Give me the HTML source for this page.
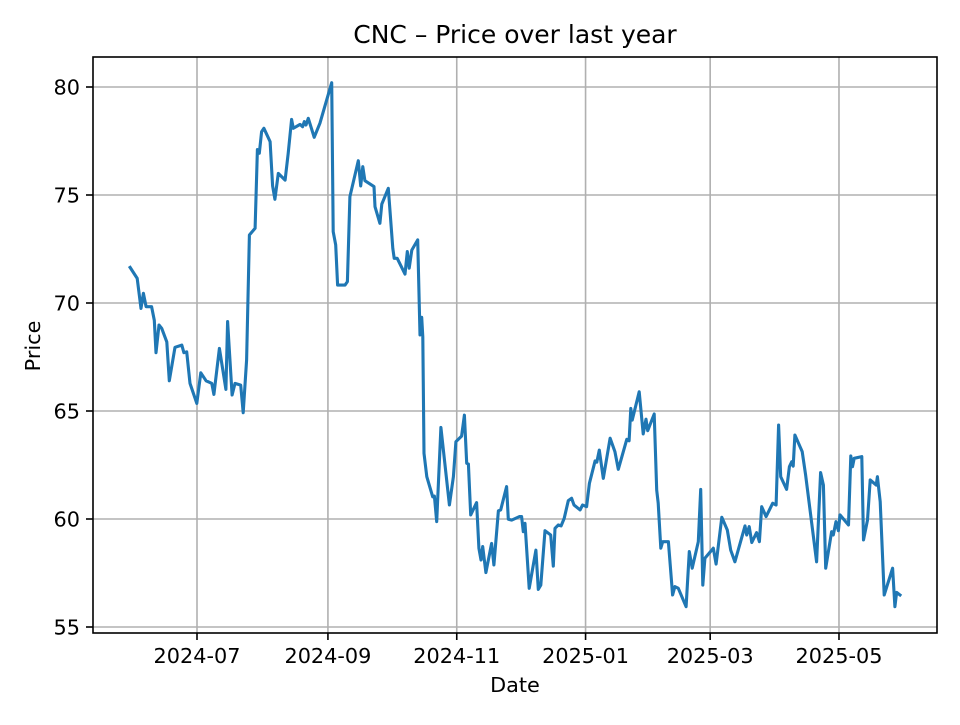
<!DOCTYPE html>
<html><head><meta charset="utf-8"><style>
html,body{margin:0;padding:0;background:#fff;}
svg text{font-family:"DejaVu Sans","Liberation Sans",sans-serif;fill:#000;}
</style></head><body>
<svg id="chart" width="960" height="720" viewBox="0 0 960 720" xmlns="http://www.w3.org/2000/svg">
<rect x="0" y="0" width="960" height="720" fill="#fff"/>
<text x="515" y="43" font-size="25" text-anchor="middle">CNC – Price over last year</text>
<g id="grid"></g>
<g id="series"></g>
<g id="axes"></g>
<text x="515" y="692" font-size="20.8" text-anchor="middle">Date</text>
<text x="0" y="0" font-size="20.8" text-anchor="middle" transform="translate(40,346) rotate(-90)">Price</text>
</svg>
<script>
const startDate = '2024-07-01';
const dayOffsets = [-31.7,-28.3,-26.5,-25.4,-24.1,-21.5,-20.2,-19.4,-18.0,-16.7,-14.3,-13.1,-10.4,-7.2,-6.2,-4.9,-3.3,-0.1,1.8,4.3,7.0,8.0,10.6,13.7,14.5,16.6,18.0,20.7,21.9,23.5,24.8,27.5,28.6,29.5,30.6,31.7,34.6,35.8,36.9,38.5,41.7,43.2,44.8,45.6,48.8,50.0,50.8,51.6,52.7,55.5,58.2,63.8,64.5,65.7,66.6,70.1,71.2,72.4,76.4,77.5,78.5,79.5,83.8,84.3,86.6,87.5,90.6,92.7,93.4,94.8,98.5,99.6,100.5,101.7,104.5,105.6,106.4,106.9,107.5,108.8,111.6,112.4,113.5,115.5,119.5,121.4,122.6,125.3,126.6,127.7,128.5,129.6,132.4,133.5,134.5,135.3,136.8,139.5,140.6,142.7,143.8,146.6,147.4,149.0,152.6,153.7,154.5,155.3,157.3,160.5,161.6,162.8,164.8,167.5,168.7,169.5,171.1,172.4,173.9,175.8,177.4,178.5,181.4,182.6,184.5,185.8,188.5,189.3,190.5,192.4,195.6,197.9,199.5,203.5,204.6,205.4,206.1,209.4,211.3,212.6,213.4,216.5,217.7,218.4,219.6,220.5,223.2,225.2,226.3,227.9,231.6,233.1,234.5,237.4,238.5,239.5,240.5,244.5,245.8,248.5,251.1,252.7,254.7,259.5,260.3,261.5,262.7,265.0,266.3,267.4,269.5,272.6,274.2,275.4,276.4,279.2,280.5,281.6,282.3,283.1,286.6,288.2,293.4,295.3,296.6,297.7,300.5,301.3,302.6,303.7,304.5,308.5,309.6,310.4,311.2,314.8,315.6,317.5,318.8,321.6,322.2,323.5,325.4,329.4,330.5,331.3,332.9];
const prices = [71.65,71.14,69.75,70.45,69.83,69.83,69.2,67.7,68.98,68.83,68.2,66.4,67.95,68.05,67.7,67.74,66.28,65.35,66.77,66.4,66.28,65.77,67.9,66.0,69.14,65.74,66.28,66.2,64.92,67.36,73.15,73.46,77.1,76.93,77.93,78.09,77.47,75.42,74.8,76.0,75.69,76.93,78.5,78.09,78.27,78.16,78.4,78.24,78.55,77.67,78.32,80.2,73.3,72.69,70.83,70.83,70.99,74.92,76.59,75.42,76.31,75.66,75.39,74.46,73.69,74.58,75.31,72.53,72.07,72.07,71.34,72.38,71.61,72.45,72.92,68.52,69.34,68.44,63.04,61.96,61.03,61.06,59.88,64.24,60.65,61.96,63.58,63.84,64.81,62.58,62.55,60.19,60.76,58.65,58.1,58.72,57.52,58.87,57.87,60.38,60.42,61.5,59.99,59.95,60.11,60.11,59.41,59.8,56.79,58.56,56.74,56.94,59.46,59.26,57.82,59.57,59.72,59.68,60.03,60.85,60.96,60.65,60.42,60.65,60.57,61.65,62.69,62.63,63.19,61.88,63.74,63.12,62.3,63.69,63.62,65.12,64.58,65.89,63.94,64.62,64.09,64.86,61.34,60.73,58.65,58.95,58.95,56.48,56.87,56.79,55.94,58.49,57.72,58.95,61.37,56.94,58.18,58.65,57.91,60.08,59.49,58.56,58.02,59.68,59.26,59.65,58.91,59.37,58.95,60.57,60.11,60.73,60.65,64.35,61.96,61.37,62.42,62.65,62.45,63.89,63.12,62.04,58.02,62.15,61.57,57.72,59.41,59.26,59.88,59.46,60.19,59.72,62.92,62.42,62.81,62.89,59.03,59.95,61.81,61.57,61.96,60.8,56.48,57.72,55.94,56.6,56.48];
const xTickLabels = ['2024-07','2024-09','2024-11','2025-01','2025-03','2025-05'];
const xTickOffsets = [0,62,123,184,243,304];
const yTickValues = [55,60,65,70,75,80];

const NS = 'http://www.w3.org/2000/svg';
const L = 93, R = 937, T = 57, B = 633;
function xScale(d){ return 197 + d * 2.1118; }
function yScale(v){ return 87 + (80 - v) * 21.6; }
function mk(tag, attrs, parent){
  const e = document.createElementNS(NS, tag);
  for (const k in attrs) e.setAttribute(k, attrs[k]);
  parent.appendChild(e);
  return e;
}
const grid = document.getElementById('grid');
const axes = document.getElementById('axes');
const series = document.getElementById('series');

xTickOffsets.forEach((d, i) => {
  const x = xScale(d);
  const g = mk('line', {x1:x, x2:x, y1:T, y2:B, stroke:'#b0b0b0', 'stroke-width':1.6}, grid);
  
  
  const t = mk('line', {x1:x, x2:x, y1:B, y2:B+7, stroke:'#000', 'stroke-width':1.6}, axes);
  
  
  const lb = mk('text', {x:x, y:B+30, 'font-size':20.8, 'text-anchor':'middle'}, axes);
  lb.textContent = xTickLabels[i];
  
  
});
yTickValues.forEach(v => {
  const y = yScale(v);
  const g = mk('line', {x1:L, x2:R, y1:y, y2:y, stroke:'#b0b0b0', 'stroke-width':1.6}, grid);
  
  
  const t = mk('line', {x1:L-7, x2:L, y1:y, y2:y, stroke:'#000', 'stroke-width':1.6}, axes);
  
  
  const lb = mk('text', {x:L-13, y:y+7.5, 'font-size':20.8, 'text-anchor':'end'}, axes);
  lb.textContent = String(v);
  
  
});
const frame = mk('rect', {x:L, y:T, width:R-L, height:B-T, fill:'none', stroke:'#000', 'stroke-width':1.6}, axes);



const pts = dayOffsets.map((d, i) => xScale(d).toFixed(1) + ',' + yScale(prices[i]).toFixed(1)).join(' ');
const line = mk('polyline', {points:pts, fill:'none', stroke:'#1f77b4', 'stroke-width':3.1, 'stroke-linejoin':'round', 'stroke-linecap':'square'}, series);


</script>
</body></html>
